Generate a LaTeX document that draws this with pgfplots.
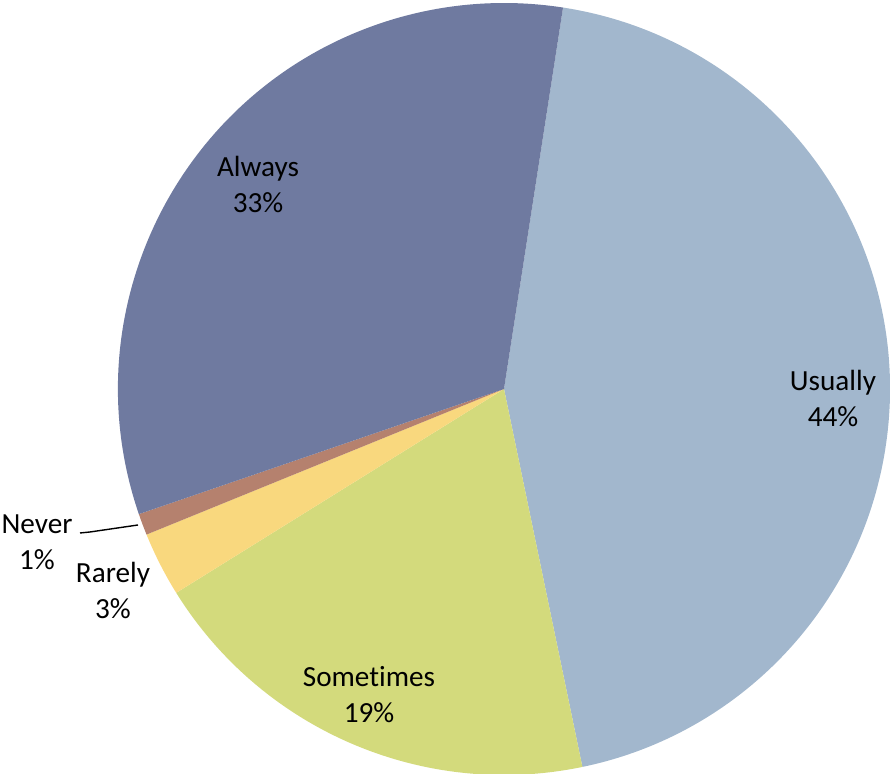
\documentclass[border=0pt]{standalone}
\usepackage{pgfplots}
\usepackage{pgfplotstable}
\pgfplotsset{compat=1.18}
\usepackage{fontspec}
\setmainfont{Carlito}[RawFeature={-liga;-dlig}]
\definecolor{cUsually}{HTML}{A2B7CD}
\definecolor{cSometimes}{HTML}{D3DA7C}
\definecolor{cRarely}{HTML}{F9D87E}
\definecolor{cNever}{HTML}{B5816E}
\definecolor{cAlways}{HTML}{6F7AA0}
\pgfplotstableread{
label value
Usually 44.3
Sometimes 19.4
Rarely 2.7
Never 0.9
Always 32.7
}\piedata
\begin{document}
\begin{tikzpicture}
\begin{axis}[
  hide axis, scale only axis, clip=false,
  width=445pt, height=387pt,
  xmin=0, xmax=890, ymin=0, ymax=774,
]
\pgfplotsextra{
  \xdef\startang{81.2}
  \foreach \i/\col in {0/cUsually,1/cSometimes,2/cRarely,3/cNever,4/cAlways}{
    \pgfplotstablegetelem{\i}{value}\of\piedata
    \pgfmathsetmacro\endang{\startang - 3.6*\pgfplotsretval}
    \fill[\col] (axis cs:504,385) -- ++(\startang:193pt) arc[start angle=\startang, end angle=\endang, radius=193pt] -- cycle;
    \global\let\startang\endang
  }
}
\coordinate (SW) at (axis cs:0,0);
\coordinate (NE) at (axis cs:890,774);
\draw[black, line width=0.7pt] (axis cs:80,241) -- (axis cs:90,242) -- (axis cs:138,249);
\tikzset{lbl/.style={align=center, font=\fontsize{14.6}{18}\selectfont, inner sep=0pt}}
\node[lbl] at (axis cs:833,376) {Usually\\44\%};
\node[lbl] at (axis cs:258,590) {Always\\33\%};
\node[lbl] at (axis cs:369,79) {Sometimes\\19\%};
\node[lbl] at (axis cs:113,184) {Rarely\\3\%};
\node[lbl] at (axis cs:37,232) {Never\\1\%};
\end{axis}
\pgfresetboundingbox
\path (SW) rectangle (NE);
\end{tikzpicture}
\end{document}
